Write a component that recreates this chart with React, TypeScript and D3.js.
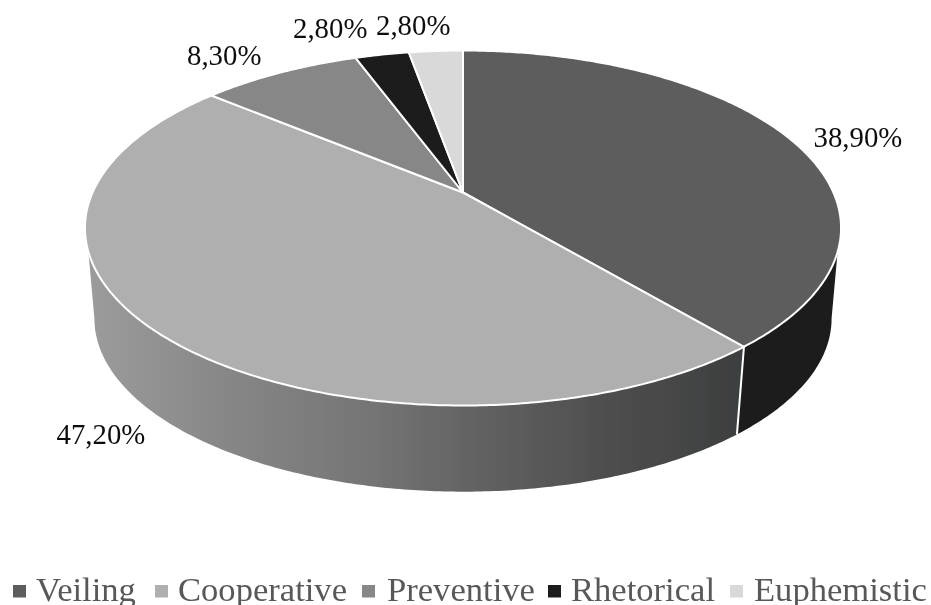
import * as d3 from "d3"

const categories = ["Veiling", "Cooperative", "Preventive", "Rhetorical", "Euphemistic"]
const shares = [38.9, 47.2, 8.3, 2.8, 2.8]

const topColors = ["#5d5d5d", "#aeafae", "#878787", "#1f1f1f", "#d9d9d9"]

const width = 931
const height = 605

// pie geometry (perspective view of a disc)
const cx = 463
const cy = 192.5
const rx = 370.4
const ry = 170.4
const persp = 0.2
const depth = 91.5
const bottomScale = 0.975

// where the wall leaves the top rim and the lower rim (radians clockwise from 12)
const wallTop = [(109 * Math.PI) / 180, (251 * Math.PI) / 180]
const wallBottom = [(101.5 * Math.PI) / 180, (258.5 * Math.PI) / 180]

// label and legend placement
const labelAnchors = [
  [813.5, 147],
  [56.5, 444],
  [187, 65],
  [293, 38],
  [376, 35],
]
const legendX = [13, 155, 362, 548, 730]
const legendTextX = [36, 178, 387, 571, 754]

type Pt = [number, number]

const project = (a: number): Pt => {
  const u = Math.sin(a)
  const v = -Math.cos(a)
  const w = 1 - persp * v
  return [cx + (rx * u) / w, cy + (ry * v) / w]
}

const projectBottom = (a: number): Pt => {
  const [x, y] = project(a)
  return [cx + (x - cx) * bottomScale, cy + (y - cy) * bottomScale + depth]
}

const sample = (a0: number, a1: number) => {
  const n = Math.max(2, Math.ceil((a1 - a0) / 0.01))
  return d3.range(n + 1).map((i) => a0 + ((a1 - a0) * i) / n)
}

const line = d3.line<Pt>().x((d) => d[0]).y((d) => d[1])

const pie = d3.pie<number>().sort(null)
const slices = pie(shares)

const formatShare = (v: number) => v.toFixed(2).replace(".", ",") + "%"

const sideX = d3.scaleLinear().domain([85, 735]).range([0, 100])
const sideStops: [number, string][] = [
  [85, "#9c9c9c"],
  [240, "#858585"],
  [370, "#757575"],
  [470, "#636363"],
  [600, "#4f4f4f"],
  [735, "#3e4040"],
]

export default function App() {
  const wallPath = (t0: number, t1: number, b0: number, b1: number) => {
    const pts = [
      ...sample(t0, t1).map(project),
      ...sample(b0, b1).reverse().map(projectBottom),
    ]
    return line(pts) + "Z"
  }

  const slicePath = (a0: number, a1: number) => {
    const pts: Pt[] = [[cx, cy], ...sample(a0, a1).map(project)]
    return line(pts) + "Z"
  }

  const split = slices[0].endAngle

  return (
    <svg
      width={width}
      height={height}
      style={{ position: "absolute", left: 0, top: 0, display: "block", background: "#fff" }}
    >
      <defs>
        <linearGradient id="side" gradientUnits="userSpaceOnUse" x1={85} x2={735} y1={0} y2={0}>
          {sideStops.map(([x, c]) => (
            <stop key={x} offset={`${sideX(x)}%`} stopColor={c} />
          ))}
        </linearGradient>
        <filter id="soft" x="-5%" y="-5%" width="110%" height="110%">
          <feGaussianBlur stdDeviation="0.5" />
        </filter>
      </defs>

      <g filter="url(#soft)">
        {/* pie wall */}
        <path d={wallPath(wallTop[0], split, wallBottom[0], split)} fill="#1f1f1f" />
        <path d={wallPath(split, wallTop[1], split, wallBottom[1])} fill="url(#side)" />
        <path
          d={line([project(split), projectBottom(split)]) ?? ""}
          stroke="#fff"
          strokeWidth={2}
          fill="none"
        />

        {/* top face */}
        {slices.map((s, i) => (
          <path
            key={categories[i]}
            d={slicePath(s.startAngle, s.endAngle)}
            fill={topColors[i]}
            stroke="#fff"
            strokeWidth={2}
            strokeLinejoin="round"
          />
        ))}

        {/* data labels */}
        {shares.map((v, i) => (
          <text
            key={categories[i]}
            x={labelAnchors[i][0]}
            y={labelAnchors[i][1]}
            fontFamily="'Liberation Serif', serif"
            fontSize={28.8}
            fill="#111"
          >
            {formatShare(v)}
          </text>
        ))}

        {/* legend */}
        {categories.map((c, i) => (
          <g key={c}>
            <rect x={legendX[i]} y={585} width={13} height={12.5} fill={topColors[i]} />
            <text
              x={legendTextX[i]}
              y={601}
              fontFamily="'Liberation Serif', serif"
              fontSize={34.6}
              fill="#595959"
            >
              {c}
            </text>
          </g>
        ))}
      </g>
    </svg>
  )
}
